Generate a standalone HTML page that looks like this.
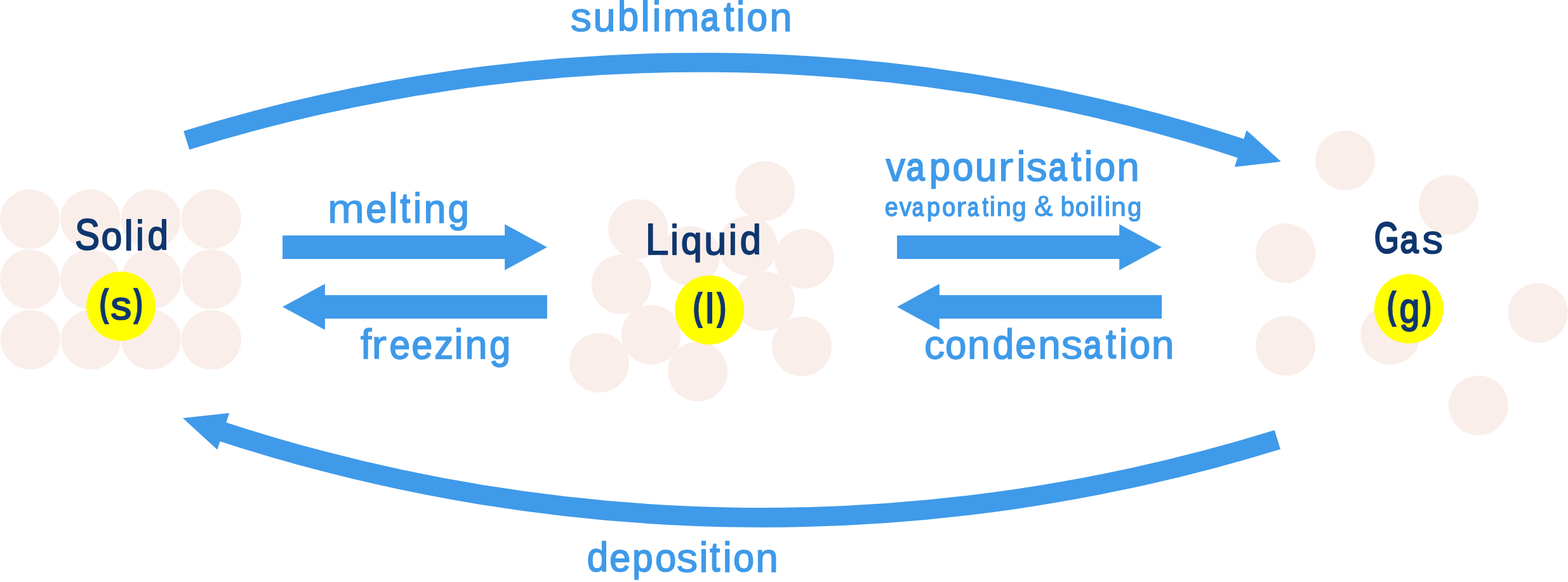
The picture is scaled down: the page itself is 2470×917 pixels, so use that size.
<!DOCTYPE html>
<html lang="en"><head><meta charset="utf-8"><title>Changes of state</title>
<style>
html,body{margin:0;padding:0;background:#fff;}
body{width:2470px;height:917px;overflow:hidden;}
svg{display:block;will-change:transform;}
text{text-rendering:geometricPrecision;font-family:"Liberation Sans",sans-serif;stroke-linejoin:round;}
</style></head><body>
<svg width="2470" height="917" viewBox="0 0 2470 917">
<rect width="2470" height="917" fill="#fff"/>
<g fill="#faeeea">
<circle cx="47" cy="345.3" r="47.0"/>
<circle cx="142.3" cy="345.3" r="47.0"/>
<circle cx="237.6" cy="345.3" r="47.0"/>
<circle cx="333" cy="345.3" r="47.0"/>
<circle cx="47" cy="440" r="47.0"/>
<circle cx="141.8" cy="440" r="47.0"/>
<circle cx="238.3" cy="440" r="47.0"/>
<circle cx="333.2" cy="440" r="47.0"/>
<circle cx="48" cy="535.3" r="47.0"/>
<circle cx="143" cy="535.3" r="47.0"/>
<circle cx="238" cy="535.3" r="47.0"/>
<circle cx="333" cy="535.3" r="47.0"/>
<circle cx="1205" cy="300.8" r="47.0"/>
<circle cx="1005.2" cy="360.7" r="47.0"/>
<circle cx="1087" cy="403.2" r="47.0"/>
<circle cx="1178" cy="387.5" r="47.0"/>
<circle cx="1267" cy="407.6" r="47.0"/>
<circle cx="978.8" cy="447.9" r="47.0"/>
<circle cx="1205" cy="474.7" r="47.0"/>
<circle cx="1025.7" cy="527.4" r="47.0"/>
<circle cx="1263.1" cy="545.8" r="47.0"/>
<circle cx="943.9" cy="571.7" r="47.0"/>
<circle cx="1099" cy="585.5" r="47.0"/>
<circle cx="2119.1" cy="252.8" r="47.0"/>
<circle cx="2282" cy="322.9" r="47.0"/>
<circle cx="2025.1" cy="399.1" r="47.0"/>
<circle cx="2025.1" cy="544.8" r="47.0"/>
<circle cx="2190.3" cy="527.6" r="47.0"/>
<circle cx="2422.7" cy="493.1" r="47.0"/>
<circle cx="2328.8" cy="638.8" r="47.0"/>
</g>
<g fill="#3f9ae9">
<path d="M445.1 371.1H795.1V353.3L861.8 389.5L795.1 425.7V407.9H445.1Z"/>
<path d="M861.9 465.0H511.9V447.3L445.1 483.5L511.9 519.7V502.0H861.9Z"/>
<path d="M1413 371.1H1763.2V353.3L1829.9 389.5L1763.2 425.7V407.9H1413Z"/>
<path d="M1830 465.0H1479.8V447.3L1413 483.5L1479.8 519.7V502.0H1830Z"/>
</g>
<g fill="#3f9ae9"><path d="M289.22 206.54A2757.5 2757.5 0 0 1 1965.24 220.78L1955.45 250.46A2720.2 2720.2 0 0 0 298.28 235.76Z"/><path d="M1963.7 205.2L2018 254.8L1944.8 262.95Z"/></g>
<g fill="#3f9ae9" transform="rotate(180 1153 456.8)"><path d="M289.04 205.96A2761.1 2761.1 0 0 1 1965.43 220.21L1955.63 249.94A2723.3 2723.3 0 0 0 298.28 235.76Z"/><path d="M1963.7 205.2L2018 254.8L1944.8 262.95Z"/></g>
<g fill="#ffff00">
<circle cx="190.5" cy="482.4" r="54.5"/>
<circle cx="1117.6" cy="488.4" r="54.5"/>
<circle cx="2219.3" cy="486.6" r="54.5"/>
</g>
<text fill="#3f9ae9" stroke="#3f9ae9"><tspan x="898.63" y="49" font-size="64.2" stroke-width="1.3" textLength="33.54" lengthAdjust="spacingAndGlyphs">s</tspan><tspan x="934.43" y="49" font-size="64.3" stroke-width="1.66" textLength="35.07" lengthAdjust="spacingAndGlyphs">u</tspan><tspan x="973.06" y="48" font-size="64.74" stroke-width="1.98" textLength="33.04" lengthAdjust="spacingAndGlyphs">b</tspan><tspan x="1009.29" y="49" font-size="66.31" stroke-width="1.7" textLength="14.53" lengthAdjust="spacingAndGlyphs">l</tspan><tspan x="1027.56" y="49" font-size="66.31" stroke-width="1.7" textLength="13.90" lengthAdjust="spacingAndGlyphs">i</tspan><tspan x="1043.99" y="49" font-size="64.25" stroke-width="1.06" textLength="58.18" lengthAdjust="spacingAndGlyphs">m</tspan><tspan x="1103.74" y="48" font-size="60.9" stroke-width="2.66" textLength="28.73" lengthAdjust="spacingAndGlyphs">a</tspan><tspan x="1140.38" y="48" font-size="65.75" stroke-width="2.19" textLength="15.84" lengthAdjust="spacingAndGlyphs">t</tspan><tspan x="1159.74" y="49" font-size="66.31" stroke-width="1.7" textLength="13.65" lengthAdjust="spacingAndGlyphs">i</tspan><tspan x="1176.49" y="48" font-size="61.44" stroke-width="2.08" textLength="32.41" lengthAdjust="spacingAndGlyphs">o</tspan><tspan x="1212.46" y="49" font-size="63.68" stroke-width="1.67" textLength="34.99" lengthAdjust="spacingAndGlyphs">n</tspan></text>
<text fill="#0f366f" stroke="#0f366f"><tspan x="118.03" y="393" font-size="68.67" stroke-width="2.16" textLength="38.98" lengthAdjust="spacingAndGlyphs">S</tspan><tspan x="159.75" y="393" font-size="60.84" stroke-width="2.19" textLength="32.34" lengthAdjust="spacingAndGlyphs">o</tspan><tspan x="195.48" y="394" font-size="66.35" stroke-width="1.9" textLength="14.41" lengthAdjust="spacingAndGlyphs">l</tspan><tspan x="213.97" y="394" font-size="66.35" stroke-width="1.9" textLength="12.89" lengthAdjust="spacingAndGlyphs">i</tspan><tspan x="232.54" y="393" font-size="64.79" stroke-width="2.17" textLength="32.44" lengthAdjust="spacingAndGlyphs">d</tspan></text>
<text fill="#0f366f" stroke="#0f366f"><tspan x="156.31" y="498.11" font-size="60.6" font-weight="700" stroke-width="0.8" textLength="15.34" lengthAdjust="spacingAndGlyphs">(</tspan><tspan x="174.26" y="502.60" font-size="62.6" font-weight="400" stroke-width="2.0" textLength="33.02" lengthAdjust="spacingAndGlyphs">s</tspan><tspan x="209.96" y="498.11" font-size="60.6" font-weight="700" stroke-width="0.8" textLength="15.34" lengthAdjust="spacingAndGlyphs">)</tspan></text>
<text fill="#3f9ae9" stroke="#3f9ae9"><tspan x="515.90" y="351" font-size="64.42" stroke-width="1.07" textLength="58.11" lengthAdjust="spacingAndGlyphs">m</tspan><tspan x="576.56" y="350" font-size="61.64" stroke-width="2.07" textLength="32.46" lengthAdjust="spacingAndGlyphs">e</tspan><tspan x="612.18" y="351" font-size="66.45" stroke-width="1.7" textLength="14.41" lengthAdjust="spacingAndGlyphs">l</tspan><tspan x="630.49" y="350" font-size="65.84" stroke-width="2.27" textLength="15.59" lengthAdjust="spacingAndGlyphs">t</tspan><tspan x="650.89" y="351" font-size="66.45" stroke-width="1.7" textLength="13.14" lengthAdjust="spacingAndGlyphs">i</tspan><tspan x="667.46" y="351" font-size="63.87" stroke-width="1.67" textLength="34.99" lengthAdjust="spacingAndGlyphs">n</tspan><tspan x="705.76" y="350" font-size="61.88" stroke-width="1.99" textLength="32.97" lengthAdjust="spacingAndGlyphs">g</tspan></text>
<text fill="#3f9ae9" stroke="#3f9ae9"><tspan x="568.09" y="565" font-size="66.24" stroke-width="1.74" textLength="17.25" lengthAdjust="spacingAndGlyphs">f</tspan><tspan x="585.28" y="565" font-size="64.12" stroke-width="1.0" textLength="23.91" lengthAdjust="spacingAndGlyphs">r</tspan><tspan x="613.50" y="565" font-size="63.14" stroke-width="2.05" textLength="32.58" lengthAdjust="spacingAndGlyphs">e</tspan><tspan x="648.62" y="565" font-size="63.15" stroke-width="2.04" textLength="32.66" lengthAdjust="spacingAndGlyphs">e</tspan><tspan x="684.26" y="565" font-size="63.83" stroke-width="1.95" textLength="29.84" lengthAdjust="spacingAndGlyphs">z</tspan><tspan x="715.49" y="565" font-size="66.17" stroke-width="1.7" textLength="14.16" lengthAdjust="spacingAndGlyphs">i</tspan><tspan x="732.46" y="565" font-size="63.49" stroke-width="1.67" textLength="34.99" lengthAdjust="spacingAndGlyphs">n</tspan><tspan x="770.99" y="565" font-size="63.38" stroke-width="1.98" textLength="33.04" lengthAdjust="spacingAndGlyphs">g</tspan></text>
<text fill="#0f366f" stroke="#0f366f"><tspan x="1015.92" y="401" font-size="70.22" stroke-width="1.32" textLength="37.85" lengthAdjust="spacingAndGlyphs">L</tspan><tspan x="1055.88" y="401" font-size="66.27" stroke-width="1.9" textLength="12.99" lengthAdjust="spacingAndGlyphs">i</tspan><tspan x="1073.01" y="400" font-size="60.77" stroke-width="2.14" textLength="32.64" lengthAdjust="spacingAndGlyphs">q</tspan><tspan x="1108.91" y="401" font-size="64.2" stroke-width="1.7" textLength="35.43" lengthAdjust="spacingAndGlyphs">u</tspan><tspan x="1147.84" y="401" font-size="66.27" stroke-width="1.9" textLength="13.22" lengthAdjust="spacingAndGlyphs">i</tspan><tspan x="1165.81" y="400" font-size="64.77" stroke-width="2.07" textLength="33.09" lengthAdjust="spacingAndGlyphs">d</tspan></text>
<text fill="#0f366f" stroke="#0f366f"><tspan x="1091.15" y="504.31" font-size="60.6" font-weight="700" stroke-width="0.8" textLength="15.69" lengthAdjust="spacingAndGlyphs">(</tspan><tspan x="1110.15" y="509.00" font-size="66.7" font-weight="400" stroke-width="1.4" textLength="15.67" lengthAdjust="spacingAndGlyphs">l</tspan><tspan x="1128.85" y="504.31" font-size="60.6" font-weight="700" stroke-width="0.8" textLength="15.69" lengthAdjust="spacingAndGlyphs">)</tspan></text>
<text fill="#3f9ae9" stroke="#3f9ae9"><tspan x="1395.57" y="285" font-size="64.29" stroke-width="1.87" textLength="30.30" lengthAdjust="spacingAndGlyphs">v</tspan><tspan x="1427.59" y="284" font-size="61.13" stroke-width="2.61" textLength="29.06" lengthAdjust="spacingAndGlyphs">a</tspan><tspan x="1463.99" y="284" font-size="61.76" stroke-width="2.0" textLength="32.90" lengthAdjust="spacingAndGlyphs">p</tspan><tspan x="1500.69" y="284" font-size="61.63" stroke-width="2.08" textLength="32.41" lengthAdjust="spacingAndGlyphs">o</tspan><tspan x="1535.71" y="285" font-size="64.43" stroke-width="1.72" textLength="34.67" lengthAdjust="spacingAndGlyphs">u</tspan><tspan x="1572.50" y="285" font-size="64.49" stroke-width="1.0" textLength="24.05" lengthAdjust="spacingAndGlyphs">r</tspan><tspan x="1601.61" y="285" font-size="66.45" stroke-width="1.7" textLength="13.98" lengthAdjust="spacingAndGlyphs">i</tspan><tspan x="1616.87" y="285" font-size="64.28" stroke-width="1.41" textLength="32.96" lengthAdjust="spacingAndGlyphs">s</tspan><tspan x="1651.64" y="284" font-size="61.08" stroke-width="2.67" textLength="28.68" lengthAdjust="spacingAndGlyphs">a</tspan><tspan x="1687.49" y="284" font-size="65.84" stroke-width="2.27" textLength="15.59" lengthAdjust="spacingAndGlyphs">t</tspan><tspan x="1707.74" y="285" font-size="66.45" stroke-width="1.7" textLength="13.65" lengthAdjust="spacingAndGlyphs">i</tspan><tspan x="1724.63" y="284" font-size="61.59" stroke-width="2.12" textLength="32.13" lengthAdjust="spacingAndGlyphs">o</tspan><tspan x="1759.42" y="285" font-size="63.89" stroke-width="1.64" textLength="35.16" lengthAdjust="spacingAndGlyphs">n</tspan></text>
<text fill="#3f9ae9" stroke="#3f9ae9"><tspan x="1393.82" y="340" font-size="40.83" stroke-width="1.58" textLength="21.00" lengthAdjust="spacingAndGlyphs">e</tspan><tspan x="1416.72" y="340" font-size="41.22" stroke-width="1.57" textLength="18.93" lengthAdjust="spacingAndGlyphs">v</tspan><tspan x="1436.75" y="340" font-size="40.44" stroke-width="2.0" textLength="18.25" lengthAdjust="spacingAndGlyphs">a</tspan><tspan x="1460.06" y="340" font-size="40.87" stroke-width="1.58" textLength="20.99" lengthAdjust="spacingAndGlyphs">p</tspan><tspan x="1484.13" y="340" font-size="40.8" stroke-width="1.61" textLength="20.84" lengthAdjust="spacingAndGlyphs">o</tspan><tspan x="1506.32" y="341" font-size="43.41" stroke-width="0.8" textLength="16.19" lengthAdjust="spacingAndGlyphs">r</tspan><tspan x="1524.04" y="340" font-size="40.44" stroke-width="2.0" textLength="17.86" lengthAdjust="spacingAndGlyphs">a</tspan><tspan x="1547.49" y="340" font-size="42.33" stroke-width="1.99" textLength="9.20" lengthAdjust="spacingAndGlyphs">t</tspan><tspan x="1558.87" y="340" font-size="43.07" stroke-width="1.3" textLength="9.23" lengthAdjust="spacingAndGlyphs">i</tspan><tspan x="1569.63" y="340" font-size="41.16" stroke-width="1.22" textLength="23.28" lengthAdjust="spacingAndGlyphs">n</tspan><tspan x="1594.62" y="340" font-size="41.12" stroke-width="1.39" textLength="22.21" lengthAdjust="spacingAndGlyphs">g</tspan><tspan> </tspan><tspan x="1629.25" y="340" font-size="45.29" stroke-width="1.05" textLength="29.21" lengthAdjust="spacingAndGlyphs">&amp;</tspan><tspan> </tspan><tspan x="1670.81" y="340" font-size="42.96" stroke-width="1.46" textLength="21.74" lengthAdjust="spacingAndGlyphs">b</tspan><tspan x="1694.08" y="340" font-size="40.82" stroke-width="1.59" textLength="20.97" lengthAdjust="spacingAndGlyphs">o</tspan><tspan x="1716.70" y="340" font-size="43.07" stroke-width="1.3" textLength="9.48" lengthAdjust="spacingAndGlyphs">i</tspan><tspan x="1727.56" y="340" font-size="43.07" stroke-width="1.3" textLength="9.86" lengthAdjust="spacingAndGlyphs">l</tspan><tspan x="1739.94" y="340" font-size="43.07" stroke-width="1.3" textLength="9.20" lengthAdjust="spacingAndGlyphs">i</tspan><tspan x="1750.54" y="340" font-size="41.16" stroke-width="1.23" textLength="23.20" lengthAdjust="spacingAndGlyphs">n</tspan><tspan x="1776.24" y="340" font-size="41.07" stroke-width="1.44" textLength="21.88" lengthAdjust="spacingAndGlyphs">g</tspan></text>
<text fill="#3f9ae9" stroke="#3f9ae9"><tspan x="1455.94" y="565" font-size="63.72" stroke-width="1.55" textLength="32.15" lengthAdjust="spacingAndGlyphs">c</tspan><tspan x="1489.35" y="565" font-size="63.3" stroke-width="2.0" textLength="32.91" lengthAdjust="spacingAndGlyphs">o</tspan><tspan x="1524.12" y="565" font-size="63.69" stroke-width="1.58" textLength="35.54" lengthAdjust="spacingAndGlyphs">n</tspan><tspan x="1563.85" y="565" font-size="66.1" stroke-width="1.93" textLength="33.35" lengthAdjust="spacingAndGlyphs">d</tspan><tspan x="1599.55" y="564" font-size="61.38" stroke-width="2.06" textLength="32.52" lengthAdjust="spacingAndGlyphs">e</tspan><tspan x="1635.22" y="565" font-size="63.67" stroke-width="1.6" textLength="35.41" lengthAdjust="spacingAndGlyphs">n</tspan><tspan x="1671.67" y="565" font-size="64.13" stroke-width="1.29" textLength="33.61" lengthAdjust="spacingAndGlyphs">s</tspan><tspan x="1706.95" y="564" font-size="60.79" stroke-width="2.7" textLength="28.40" lengthAdjust="spacingAndGlyphs">a</tspan><tspan x="1742.35" y="564" font-size="65.67" stroke-width="2.21" textLength="15.76" lengthAdjust="spacingAndGlyphs">t</tspan><tspan x="1762.73" y="565" font-size="66.26" stroke-width="1.7" textLength="13.52" lengthAdjust="spacingAndGlyphs">i</tspan><tspan x="1779.39" y="564" font-size="61.37" stroke-width="2.08" textLength="32.41" lengthAdjust="spacingAndGlyphs">o</tspan><tspan x="1814.07" y="565" font-size="63.67" stroke-width="1.6" textLength="35.41" lengthAdjust="spacingAndGlyphs">n</tspan></text>
<text fill="#0f366f" stroke="#0f366f"><tspan x="2164.77" y="398" font-size="68.17" stroke-width="2.8" textLength="39.08" lengthAdjust="spacingAndGlyphs">G</tspan><tspan x="2205.55" y="398" font-size="60.29" stroke-width="2.72" textLength="28.99" lengthAdjust="spacingAndGlyphs">a</tspan><tspan x="2240.13" y="399" font-size="63.43" stroke-width="1.52" textLength="32.89" lengthAdjust="spacingAndGlyphs">s</tspan></text>
<text fill="#0f366f" stroke="#0f366f"><tspan x="2184.41" y="502.11" font-size="60.6" font-weight="700" stroke-width="0.8" textLength="15.34" lengthAdjust="spacingAndGlyphs">(</tspan><tspan x="2204.60" y="508.20" font-size="66.3" font-weight="400" stroke-width="2.4" textLength="31.78" lengthAdjust="spacingAndGlyphs">g</tspan><tspan x="2239.96" y="502.11" font-size="60.6" font-weight="700" stroke-width="0.8" textLength="15.34" lengthAdjust="spacingAndGlyphs">)</tspan></text>
<text fill="#3f9ae9" stroke="#3f9ae9"><tspan x="924.78" y="900" font-size="64.77" stroke-width="1.93" textLength="33.37" lengthAdjust="spacingAndGlyphs">d</tspan><tspan x="960.27" y="900" font-size="61.51" stroke-width="2.0" textLength="32.90" lengthAdjust="spacingAndGlyphs">e</tspan><tspan x="996.26" y="900" font-size="61.47" stroke-width="2.11" textLength="32.19" lengthAdjust="spacingAndGlyphs">p</tspan><tspan x="1032.32" y="900" font-size="61.51" stroke-width="2.01" textLength="32.85" lengthAdjust="spacingAndGlyphs">o</tspan><tspan x="1065.75" y="901" font-size="64.17" stroke-width="1.33" textLength="33.40" lengthAdjust="spacingAndGlyphs">s</tspan><tspan x="1101.56" y="901" font-size="66.31" stroke-width="1.7" textLength="13.90" lengthAdjust="spacingAndGlyphs">i</tspan><tspan x="1118.26" y="900" font-size="65.75" stroke-width="2.19" textLength="15.84" lengthAdjust="spacingAndGlyphs">t</tspan><tspan x="1138.64" y="901" font-size="66.31" stroke-width="1.7" textLength="13.98" lengthAdjust="spacingAndGlyphs">i</tspan><tspan x="1155.19" y="900" font-size="61.48" stroke-width="2.04" textLength="32.64" lengthAdjust="spacingAndGlyphs">o</tspan><tspan x="1190.14" y="901" font-size="63.76" stroke-width="1.58" textLength="35.57" lengthAdjust="spacingAndGlyphs">n</tspan></text>
</svg>
</body></html>
